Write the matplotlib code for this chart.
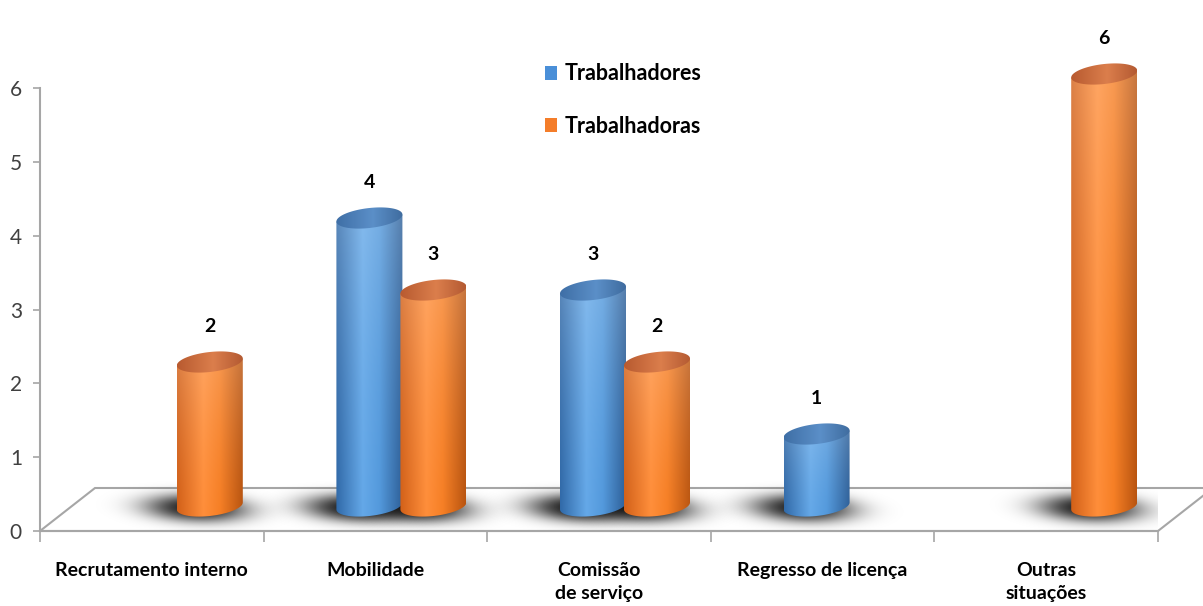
import numpy as np
import matplotlib
matplotlib.use("Agg")
import matplotlib.pyplot as plt
from matplotlib.patches import Polygon, Patch
from matplotlib.colors import to_rgb

# ---------------- data ----------------
categories = ["Recrutamento interno", "Mobilidade", "Comissão\nde serviço",
              "Regresso de licença", "Outras\nsituações"]
series_names = ["Trabalhadores", "Trabalhadoras"]
trabalhadores = [0, 4, 3, 1, 0]
trabalhadoras = [2, 3, 2, 0, 6]
yticks = [0, 1, 2, 3, 4, 5, 6]

plt.rcParams['font.family'] = ['Lato', 'DejaVu Sans']

W, H = 1203, 606
fig = plt.figure(figsize=(W / 100, H / 100), dpi=100)
ax_l, ax_r, ax_b, ax_t = 40, 1158, 531, 88
ax = fig.add_axes([ax_l / W, (H - ax_b) / H, (ax_r - ax_l) / W, (ax_b - ax_t) / H])
XL, YL = (-0.5, 4.5), (0, 6)
ax.set_xlim(*XL)
ax.set_ylim(*YL)
PX = (XL[1] - XL[0]) / (ax_r - ax_l)   # x-units per pixel
PY = (YL[1] - YL[0]) / (ax_b - ax_t)   # y-units per pixel

# ---------------- floor ----------------
depth_x, depth_y = 55 * PX, 43 * PY
floor = Polygon([(XL[0], 0), (XL[0] + depth_x, depth_y), (XL[1] + depth_x, depth_y),
                 (XL[1], 0)], closed=True, facecolor='white', edgecolor='#a6a6a6',
                lw=1.5, clip_on=False, zorder=1)
ax.add_patch(floor)

# ---------------- cylinder helpers ----------------
a = 33 * PX          # half width
b = 10 * PY          # ellipse half height
TILT = (7 * PY) / (66 * PX)
base = 25 * PY       # base centre height (mid depth)
vscale = 72 * PY     # height per unit value
shift = 26 * PX      # depth shift of cylinders
half_gap = 32 * PX

blue_stops = [(0.0, '#3069a8'), (0.4, '#64a8e8'), (0.65, '#5399dc'), (1.0, '#2d5f98')]
orange_stops = [(0.0, '#d26018'), (0.4, '#ff8e3a'), (0.65, '#f67f25'), (1.0, '#b9540f')]
blue_top = [(0.0, '#3f6fa6'), (0.55, '#5b8fc8'), (1.0, '#3f6c9f')]
orange_top = [(0.0, '#b85a30'), (0.55, '#db7e4c'), (1.0, '#b45a32')]


def profile(stops, n):
    xs = np.linspace(0, 1, n)
    pos = [s[0] for s in stops]
    cols = np.array([to_rgb(s[1]) for s in stops])
    return np.stack([np.interp(xs, pos, cols[:, c]) for c in range(3)], axis=1)


def grad_fill(poly_xy, x0, x1, y0, y1, stops, lighten=0.0, z=3):
    nx, ny = 120, 200
    row = profile(stops, nx)
    img = np.repeat(row[None, :, :], ny, axis=0)
    if lighten:
        t = np.linspace(0, 1, ny)[:, None, None]  # 0 bottom -> 1 top
        w = lighten * t ** 1.6
        img = img * (1 - w) + w
    patch = Polygon(poly_xy, closed=True, facecolor='none', edgecolor='none',
                    clip_on=False)
    ax.add_patch(patch)
    im = ax.imshow(img, extent=[x0, x1, y0, y1], origin='lower', aspect='auto',
                   zorder=z, interpolation='bilinear')
    im.set_clip_box(fig.bbox)
    im.set_clip_path(patch)


def shadow(cx):
    sx, sy = 36 * PX, 10 * PY
    cy = (531 - 508) * PY
    x0, x1 = cx - 4 * sx, cx + 4 * sx
    y0, y1 = cy - 4 * sy, cy + 4 * sy
    xs = np.linspace(x0, x1, 240)
    ys = np.linspace(y0, y1, 80)
    X, Y = np.meshgrid(xs, ys)
    Xs = X - (cx - 14 * PX) + (Y - cy) * (PX / PY) * 0.5
    r2 = (Xs / sx) ** 2 + ((Y - cy) / sy) ** 2
    g = np.exp(-(r2 / 2) ** 1.25)
    img = np.zeros(X.shape + (4,))
    img[..., 3] = 0.88 * g
    ax.imshow(img, extent=[x0, x1, y0, y1], origin='lower', aspect='auto', zorder=2,
              interpolation='bilinear')


def cylinder(cx, value, stops, top_stops):
    top = base + value * vscale
    t = np.linspace(np.pi, 2 * np.pi, 60)
    lower_x = cx + a * np.cos(t)
    lower_y = base + b * np.sin(t) + (lower_x - cx) * TILT
    tt = np.linspace(0, 2 * np.pi, 120)
    top_x = cx + a * np.cos(tt)
    top_y = top + b * np.sin(tt) + (top_x - cx) * TILT
    body = np.vstack([
        [[cx - a, top - a * TILT]],
        np.column_stack([lower_x, lower_y]),
        [[cx + a, top + a * TILT]],
    ])
    grad_fill(body, cx - a, cx + a, base - 2 * b, top + 2 * b, stops, lighten=0.22, z=3)
    grad_fill(np.column_stack([top_x, top_y]), cx - a, cx + a, top - 2 * b, top + 2 * b,
              top_stops, z=4)
    return top + b


label_kw = dict(ha='center', va='center', fontsize=14, fontweight='bold', color='black',
                zorder=6, clip_on=False)

for i in range(len(categories)):
    cb = i - half_gap + shift
    co = i + half_gap + shift
    for cx, v in ((cb, trabalhadores[i]), (co, trabalhadoras[i])):
        if v > 0:
            shadow(cx)
    if trabalhadores[i] > 0:
        tp = cylinder(cb, trabalhadores[i], blue_stops, blue_top)
        ax.text(cb, tp + 26 * PY, str(trabalhadores[i]), **label_kw)
    if trabalhadoras[i] > 0:
        tp = cylinder(co, trabalhadoras[i], orange_stops, orange_top)
        ax.text(co, tp + 26 * PY, str(trabalhadoras[i]), **label_kw)

ax.set_xlim(*XL)
ax.set_ylim(*YL)

# ---------------- axes styling ----------------
for s in ('top', 'right'):
    ax.spines[s].set_visible(False)
for s in ('left', 'bottom'):
    ax.spines[s].set_color('#a6a6a6')
    ax.spines[s].set_linewidth(1.5)
    ax.spines[s].set_zorder(5)

ax.set_yticks(yticks)
ax.set_yticklabels([str(v) for v in yticks])
ax.tick_params(axis='y', length=5, width=1.2, color='#a6a6a6', pad=8,
               labelsize=15, labelcolor='#404040')

ax.set_xticks(range(len(categories)))
ax.set_xticklabels(categories, fontweight='bold', fontsize=14, linespacing=1.45)
ax.set_xticks(np.arange(-0.5, len(categories), 1.0), minor=True)
ax.tick_params(axis='x', which='major', length=0, pad=22)
ax.tick_params(axis='x', which='minor', length=8, width=1.2, color='#a6a6a6', direction='out')
ax.patch.set_alpha(0)

# ---------------- legend ----------------
handles = [Patch(facecolor='#4a8fd8', edgecolor='none'),
           Patch(facecolor='#f47d2a', edgecolor='none')]
leg = fig.legend(handles, series_names, loc='upper left',
                 bbox_to_anchor=(526 / W, 1 - 44 / H), frameon=False,
                 prop={'weight': 'bold', 'size': 15.5}, handlelength=0.55, handleheight=0.6,
                 handletextpad=0.35, labelspacing=1.45)

fig.savefig('out.png', dpi=100)
